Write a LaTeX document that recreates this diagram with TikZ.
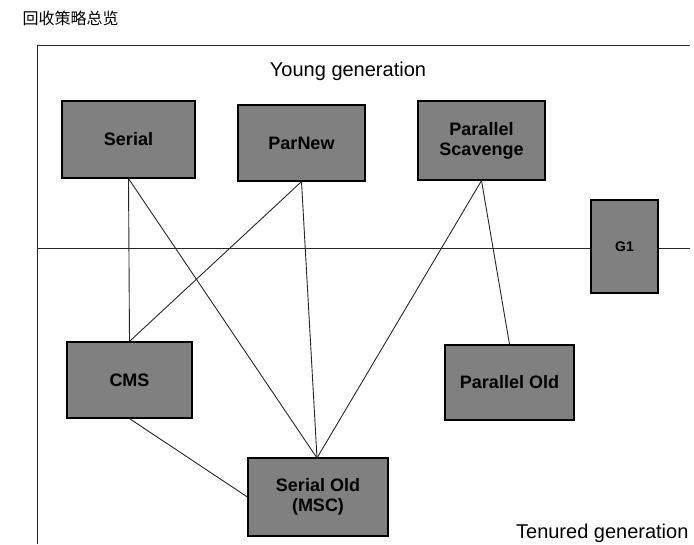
\documentclass[tikz,border=0pt]{standalone}
\usepackage{fontspec}
\setmainfont{Liberation Sans}
\newfontfamily\cjk{Noto Sans CJK SC}
\begin{document}
\begin{tikzpicture}[x=1pt,y=-1pt,
  gc/.style={draw=black,fill=black!50,line width=1.2pt,font=\bfseries\fontsize{18}{20}\selectfont,align=center,inner sep=0pt},
  ln/.style={line width=0.9pt,draw=black!85}]
\useasboundingbox (0,0) rectangle (694,544);
\node[anchor=west,font=\cjk\fontsize{16}{18}\selectfont] (title) at (19,18) {回收策略总览};
\draw[ln] (37,544) -- (37,45) -- (690,45);
\draw[ln] (37,248) -- (690,248);
\node[font=\fontsize{20}{22}\selectfont] (yg) at (348,71) {Young generation};
\node[anchor=east,font=\fontsize{20}{22}\selectfont] (tg) at (692,533) {Tenured generation};
\node[gc,minimum width=133,minimum height=77] (serial) at (128.5,139.5) {Serial};
\node[gc,minimum width=127,minimum height=76] (parnew) at (301.5,143) {ParNew};
\node[gc,minimum width=127,minimum height=79] (ps) at (481.5,140.5) {Parallel\\Scavenge};
\node[gc,minimum width=67,minimum height=93,font=\bfseries\fontsize{14}{16}\selectfont] (g1) at (624.5,246.5) {G1};
\node[gc,minimum width=125,minimum height=76] (cms) at (129.5,380) {CMS};
\node[gc,minimum width=129,minimum height=75] (po) at (509.5,382.5) {Parallel Old};
\node[gc,minimum width=140,minimum height=78] (so) at (318,497) {Serial Old\\(MSC)};
\coordinate (sotop) at (317,458);
\draw[ln] (serial.south) -- (cms.north);
\draw[ln] (serial.south) -- (sotop);
\draw[ln] (parnew.south) -- (cms.north);
\draw[ln] (parnew.south) -- (sotop);
\draw[ln] (ps.south) -- (sotop);
\draw[ln] (ps.south) -- (po.north);
\draw[ln] (cms.south) -- (so.west);
\end{tikzpicture}
\end{document}
